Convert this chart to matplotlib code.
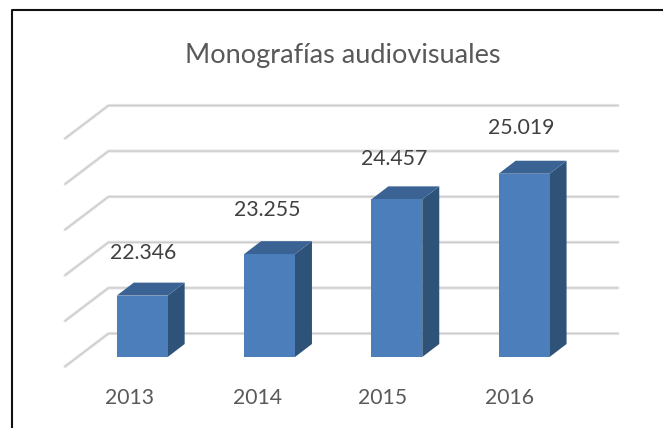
import matplotlib
matplotlib.use("Agg")
import matplotlib.pyplot as plt

plt.rcParams['font.family'] = ['Lato', 'DejaVu Sans']

years = ["2013", "2014", "2015", "2016"]
values = [22346, 23255, 24457, 25019]
value_labels = ["22.346", "23.255", "24.457", "25.019"]
grid_values = [21000, 22000, 23000, 24000, 25000, 26000]

W, H = 663, 428

# pixel mapping of the category / value scales
x0_px, x_step = 142.2, 127.3
base_px, y_scale = 357.0, 0.0456

fig = plt.figure(figsize=(W / 100, H / 100), dpi=100)
ax = fig.add_axes([0, 0, 1, 1])
ax.set_xlim(-x0_px / x_step, (W - x0_px) / x_step)
ax.set_ylim(21000 - (H - base_px) / y_scale, 21000 + base_px / y_scale)
ax.axis("off")

px_x = 1 / x_step
px_y = 1 / y_scale

# box depth
bar_w = 0.40
dx = 17 * px_x
dy = 13 * px_y

# back wall and left floor offset from the bars front plane
wall_dy = 23.5 * px_y
left_x = (108.5 - x0_px) * px_x
right_x = (618 - x0_px) * px_x
diag_dx = 43.5 * px_x
diag_dy = 33 * px_y

for v in grid_values:
    y = v + wall_dy
    xs = [left_x - diag_dx, left_x, right_x]
    ys = [y - diag_dy, y, y]
    ax.plot(xs, ys, color="#e6e6e6", lw=2.3, solid_capstyle="round", solid_joinstyle="round", zorder=1)
    ax.plot(xs, ys, color="#cbcbcb", lw=0.9, solid_capstyle="round", solid_joinstyle="round", zorder=1.1)

for i, v in enumerate(values):
    l = i - bar_w / 2
    r = i + bar_w / 2
    # side
    ax.fill([r, r + dx, r + dx, r], [21000, 21000 + dy, v + dy, v], color="#2f5279", lw=0, zorder=3)
    # top
    ax.fill([l, l + dx, r + dx, r], [v, v + dy, v + dy, v], color="#3a6394", lw=0, zorder=3)
    ax.bar(i, v - 21000, width=bar_w, bottom=21000, color="#4d7ebc", lw=0, zorder=4)

# label positions in px, as placed on the reference
label_x_px = [142.7, 267, 394, 521]
label_y_px = [253, 210, 159, 128]
for lx, ly, txt in zip(label_x_px, label_y_px, value_labels):
    ax.text(lx / W, 1 - ly / H, txt, transform=ax.transAxes, ha="center", va="center",
            fontsize=15.3, color="#404040", zorder=6)

tick_x_px = [130, 257, 383, 510]
for tx, txt in zip(tick_x_px, years):
    ax.text(tx / W, 1 - 398 / H, txt, transform=ax.transAxes, ha="center", va="center",
            fontsize=15.2, color="#595959", zorder=6)

ax.text(342.5 / W, 1 - 55.5 / H, "Monografías audiovisuales", transform=ax.transAxes,
        ha="center", va="center", fontsize=19.5, color="#595959")

# outer chart border: left and top edges only, the right one is cut off
ax.plot([11.5 / W, 11.5 / W, 1], [0, 1 - 10 / H, 1 - 10 / H],
        transform=ax.transAxes, color="#111111", lw=1.5, clip_on=False, zorder=7)

fig.savefig("out.png", dpi=100)
